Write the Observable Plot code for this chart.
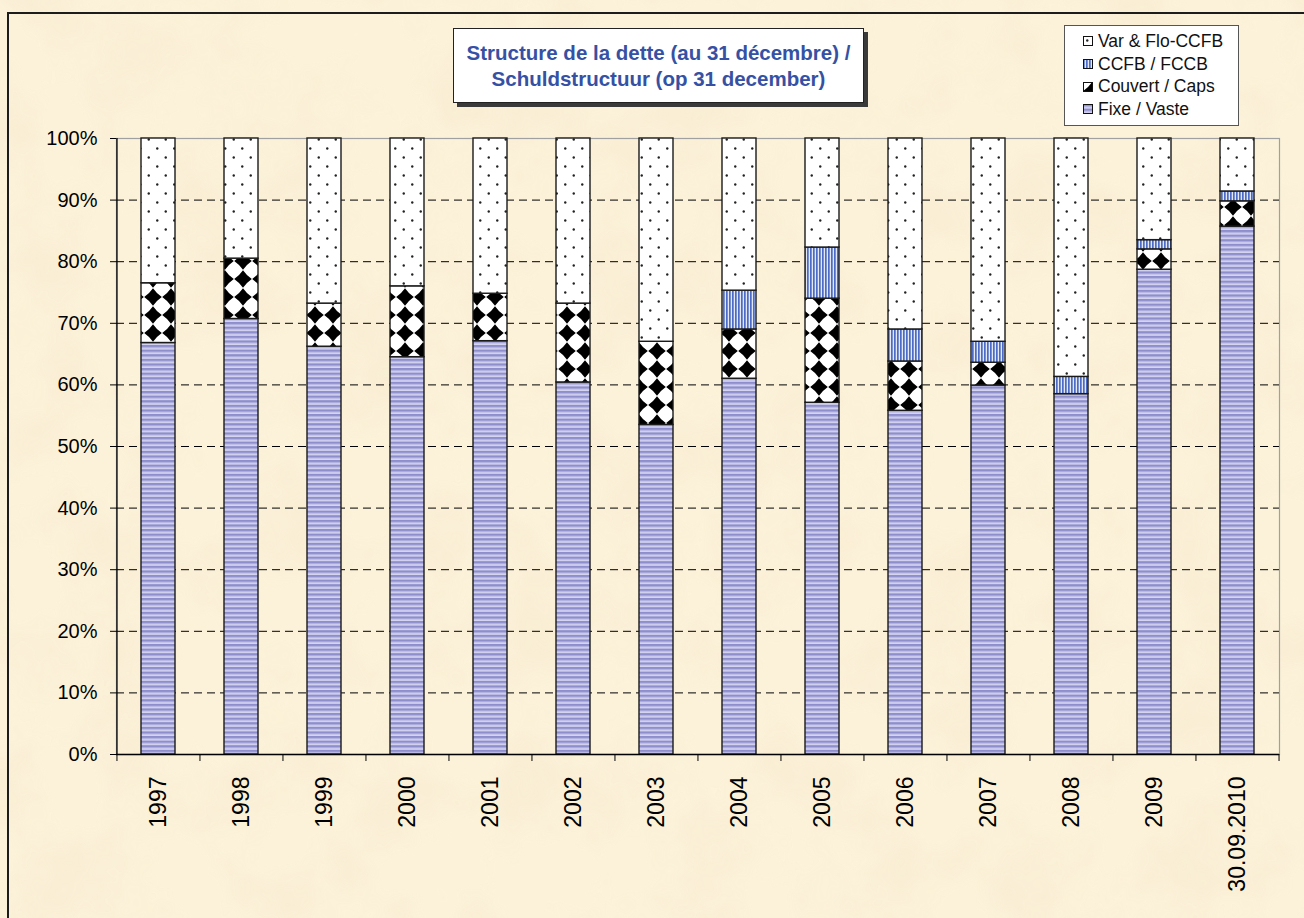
<!DOCTYPE html>
<html>
<head>
<meta charset="utf-8">
<script src="https://cdn.jsdelivr.net/npm/d3@7"></script>
<script src="https://cdn.jsdelivr.net/npm/@observablehq/plot@0.6"></script>
<style>
html, body { margin: 0; padding: 0; background: #fbf0d6; }
#wrap { position: relative; width: 1304px; height: 918px; overflow: hidden; font-family: "Liberation Sans", Arimo, Arial, sans-serif; }
#bg { position: absolute; left: 0; top: 0; }
#frame { position: absolute; left: 7px; top: 12px; width: 1320px; height: 930px; border-top: 2px solid #1c1c1c; border-left: 2px solid #1c1c1c; }
#chart { position: absolute; left: 0; top: 0; }
#title { position: absolute; left: 453px; top: 28px; width: 409px; height: 73px; background: #fff; border: 1px solid #222; box-shadow: 4px 4px 0 #3a3a3a; color: #3651a3; font-weight: bold; font-size: 20.5px; line-height: 26px; text-align: center; display: flex; flex-direction: column; justify-content: center; white-space: nowrap; }
#legend { position: absolute; left: 1064px; top: 25px; width: 175px; height: 101px; background: #fff; border: 1px solid #555; box-sizing: border-box; padding-top: 4px; font-size: 17.5px; color: #111; }
.item { display: flex; align-items: center; height: 22.7px; padding-left: 18px; white-space: nowrap; }
.item svg { margin-right: 5px; flex: none; }
</style>
</head>
<body>
<svg width="0" height="0" style="position:absolute">
  <defs>
    <pattern id="pFixe" patternUnits="userSpaceOnUse" width="8" height="4.6">
      <rect width="8" height="4.6" fill="#d4d4f1"/>
      <rect y="0" width="8" height="2.3" fill="#8e8ecc"/>
      <rect y="2.3" width="8" height="0.7" fill="#aaaadc"/>
    </pattern>
    <pattern id="pCouv" patternUnits="userSpaceOnUse" width="18" height="18">
      <rect width="18" height="18" fill="#fff"/>
      <path d="M9,0.2 Q12.6,5.4 17.8,9 Q12.6,12.6 9,17.8 Q5.4,12.6 0.2,9 Q5.4,5.4 9,0.2 Z" fill="#000"/>
    </pattern>
    <pattern id="pCcfb" patternUnits="userSpaceOnUse" width="3" height="3">
      <rect width="3" height="3" fill="#e2e8f8"/>
      <rect x="0" width="1.7" height="3" fill="#4d6bc2"/>
    </pattern>
    <pattern id="pVar" patternUnits="userSpaceOnUse" width="17" height="18">
      <rect width="17" height="18" fill="#fff"/>
      <circle cx="4.25" cy="4.5" r="1.2" fill="#222"/>
      <circle cx="12.75" cy="13.5" r="1.2" fill="#222"/>
    </pattern>
    <filter id="paper" x="0" y="0" width="100%" height="100%">
      <feTurbulence type="fractalNoise" baseFrequency="0.012" numOctaves="4" seed="7"/>
      <feColorMatrix type="matrix" values="0 0 0 0 0.92  0 0 0 0 0.82  0 0 0 0 0.6  0 0 0 1.1 -0.42"/>
    </filter>
  </defs>
</svg>
<div id="wrap">
  <svg id="bg" width="1304" height="918">
    <rect width="1304" height="918" fill="#fcf2da"/>
    <rect width="1304" height="918" filter="url(#paper)" opacity="0.8"/>
  </svg>
  <div id="frame"></div>
  <div id="chart"></div>
  <div id="title"><div>Structure de la dette (au 31 décembre) /</div><div>Schuldstructuur (op 31 december)</div></div>
  <div id="legend"></div>
</div>
<script>
// ---- Data (percent of total debt) ----
const categories = ["1997", "1998", "1999", "2000", "2001", "2002", "2003", "2004", "2005", "2006", "2007", "2008", "2009", "30.09.2010"];
const fixe    = [66.8, 70.7, 66.2, 64.5, 67.1, 60.4, 53.5, 61.0, 57.1, 55.8, 59.9, 58.5, 78.7, 85.7];
const couvert = [9.7, 9.8, 7.0, 11.5, 7.7, 12.8, 13.5, 8.0, 16.9, 8.0, 3.7, 0, 3.3, 4.1];
const ccfb    = [0, 0, 0, 0, 0, 0, 0, 6.3, 8.3, 5.2, 3.4, 2.8, 1.5, 1.6];
const varFlo  = [23.5, 19.5, 26.8, 24.0, 25.2, 26.8, 33.0, 24.7, 17.7, 31.0, 33.0, 38.7, 16.5, 8.6];

const seriesNames = ["Fixe / Vaste", "Couvert / Caps", "CCFB / FCCB", "Var & Flo-CCFB"];
const seriesFills = ["url(#pFixe)", "url(#pCouv)", "url(#pCcfb)", "url(#pVar)"];
const legendOrder = ["Var & Flo-CCFB", "CCFB / FCCB", "Couvert / Caps", "Fixe / Vaste"];
const yTicks = [0, 10, 20, 30, 40, 50, 60, 70, 80, 90, 100];

// ---- Build table ----
const rows = [];
[fixe, couvert, ccfb, varFlo].forEach((arr, s) => {
  arr.forEach((v, i) => { if (v > 0) rows.push({cat: categories[i], series: seriesNames[s], value: v}); });
});

const W = 1304, H = 918, mL = 116, mR = 25, mT = 138, mB = 164;
const half = (W - mL - mR) / categories.length / 2;

const chart = Plot.plot({
  width: W, height: H,
  marginLeft: mL, marginRight: mR, marginTop: mT, marginBottom: mB,
  style: {background: "transparent", color: "#000", fontFamily: "'Liberation Sans', Arimo, Arial, sans-serif", overflow: "visible"},
  x: {type: "band", domain: categories, paddingInner: 0.59, paddingOuter: 0.295, label: null},
  y: {domain: [0, 100], label: null},
  color: {type: "ordinal", domain: seriesNames, range: seriesFills},
  marks: [
    Plot.frame({stroke: "#a0a0a0", strokeWidth: 1.2}),
    Plot.gridY(yTicks.filter(t => t > 0 && t < 100), {stroke: "#000", strokeOpacity: 1, strokeWidth: 1, strokeDasharray: "8,5"}),
    Plot.barY(rows, Plot.stackY({x: "cat", y: "value", fill: "series", stroke: "#1a1a1a", strokeWidth: 1.4})),
    Plot.ruleY([0], {stroke: "#000", strokeWidth: 1.3}),
    Plot.ruleX([categories[0]], {dx: -half, stroke: "#000", strokeWidth: 1.3}),
    Plot.axisY(yTicks, {tickSize: 6, tickPadding: 13, tickFormat: d => d + "%", fontSize: 20, label: null}),
    Plot.axisX(categories, {tickSize: 7, tickFormat: () => "", dx: -half, label: null}),
    Plot.axisX([categories[categories.length - 1]], {tickSize: 7, tickFormat: () => "", dx: half, label: null}),
    Plot.axisX(categories, {tickSize: 0, tickPadding: 22, tickRotate: -90, fontSize: 23, label: null})
  ]
});
document.getElementById("chart").appendChild(chart);

// ---- Legend ----
const legend = d3.select("#legend");
legendOrder.forEach(name => {
  const fill = seriesFills[seriesNames.indexOf(name)];
  const item = legend.append("div").attr("class", "item");
  const sw = item.append("svg").attr("width", 10).attr("height", 10);
  sw.append("rect").attr("x", 0.5).attr("y", 0.5).attr("width", 9).attr("height", 9)
    .attr("fill", fill).attr("stroke", "#111").attr("stroke-width", 1);
  item.append("span").text(name);
});
</script>
</body>
</html>
